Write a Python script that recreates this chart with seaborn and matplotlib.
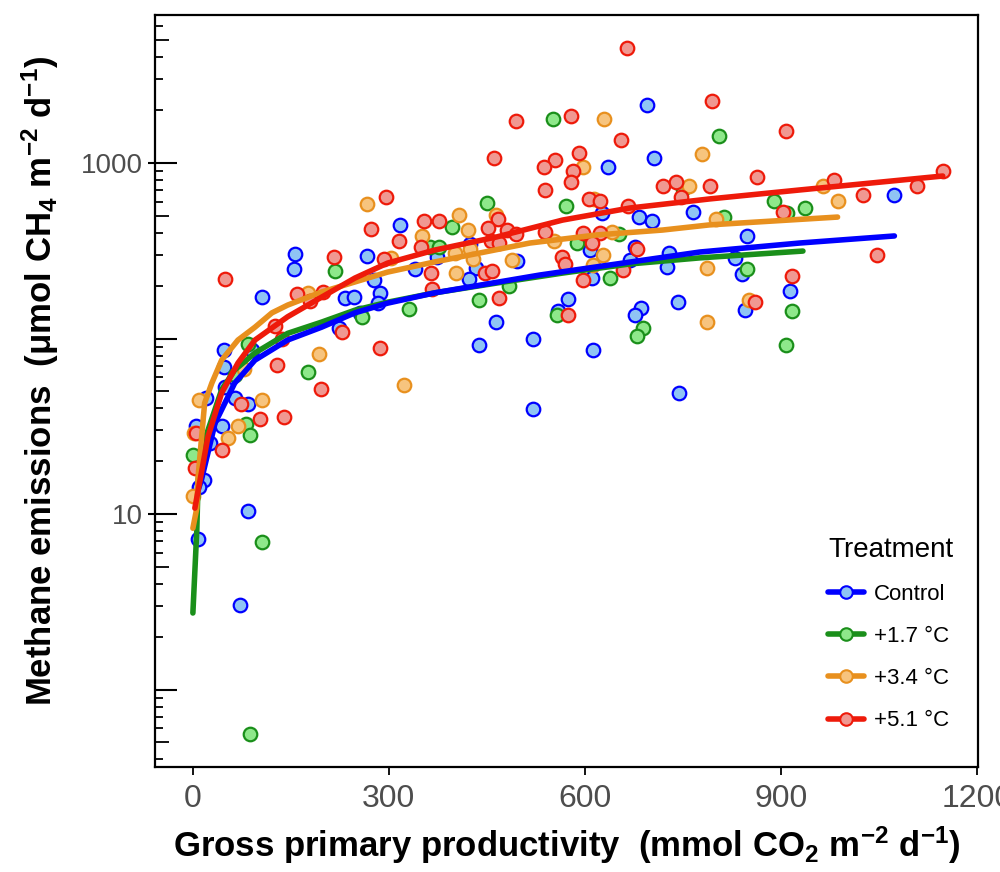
import numpy as np
import pandas as pd
import matplotlib
matplotlib.use('Agg')
import matplotlib.pyplot as plt
from matplotlib import font_manager
from matplotlib.lines import Line2D
from matplotlib.ticker import FixedLocator, LogLocator, NullFormatter, NullLocator
import seaborn as sns

# ---- points (GPP, CH4) ----
ctrl_gpp = [317, 156, 266, 696, 706, 635, 626, 683, 703, 765, 424, 608, 677, 729, 496, 373, 849, 1074,
            155, 340, 277, 106, 233, 246, 286, 283, 256, 223, 47, 90, 47, 49, 20, 64, 84, 5, 44, 26, 17,
            9, 84, 8, 72, 433, 422, 464, 438, 520, 520, 611, 574, 559, 612, 686, 677, 669, 726, 742, 745,
            830, 840, 914, 846]
ctrl_ch4 = [443, 303, 295, 2141, 1068, 949, 519, 492, 467, 526, 346, 319, 332, 307, 276, 291, 384, 657,
            249, 249, 215, 172, 170, 172, 182, 159, 140, 115, 86, 86, 68.8, 52.9, 45.8, 45.8, 42.3, 31.7,
            31.7, 25.4, 15.6, 14.3, 10.4, 7.2, 3.03, 252, 218, 124, 91.8, 99.4, 39.7, 221, 168, 143, 86,
            149, 136, 280, 255, 161, 48.9, 287, 233, 187, 145]

w17_gpp = [363, 551, 750, 450, 571, 396, 652, 588, 377, 805, 889, 937, 909, 813, 217, 331, 259, 84, 176,
           64, 81, 87, 0, 106, 87, 484, 438, 638, 557, 689, 680, 849, 917, 908]
w17_ch4 = [332, 1781, 711, 592, 569, 432, 394, 350, 332, 1425, 608, 554, 519, 492, 242, 147, 133, 93,
           64.4, 61.9, 32.6, 28.2, 21.7, 6.9, 0.558, 199, 166, 221, 136, 115, 103, 249, 143, 91.8]

w34_gpp = [266, 303, 351, 629, 779, 598, 759, 614, 407, 464, 421, 641, 553, 424, 401, 628, 488, 964,
           987, 801, 176, 193, 78, 323, 9, 106, 69, 54, 2, 0, 429, 403, 612, 787, 787, 851]
w34_ch4 = [584, 288, 384, 1781, 1125, 949, 739, 624, 505, 505, 415, 404, 359, 324, 307, 299, 280, 739,
           608, 480, 182, 81.6, 67, 54.3, 44.6, 44.6, 31.7, 27.1, 28.9, 12.7, 284, 236, 262, 252, 124, 166]

w51_gpp = [295, 272, 354, 315, 349, 216, 292, 664, 794, 579, 494, 655, 461, 591, 554, 537, 582, 579,
           539, 719, 739, 748, 791, 606, 624, 666, 467, 377, 452, 481, 494, 539, 456, 468, 598, 624, 611,
           680, 565, 908, 863, 981, 1148, 1108, 1026, 903, 1048, 364, 49, 159, 179, 199, 366, 126, 228,
           136, 286, 129, 196, 73, 103, 139, 5, 44, 3, 447, 458, 468, 569, 598, 658, 574, 917, 860]
w51_ch4 = [640, 421, 467, 359, 332, 291, 284, 4521, 2256, 1853, 1735, 1352, 1068, 1140, 1040, 949, 900,
           779, 702, 739, 779, 640, 739, 624, 608, 569, 480, 467, 426, 415, 394, 404, 359, 350, 399, 399,
           350, 324, 291, 1522, 832, 800, 900, 739, 657, 526, 299, 236, 218, 179, 164, 184, 191, 118, 109,
           99.4, 88.3, 70.6, 51.6, 42.3, 34.8, 35.7, 28.9, 23.1, 18.3, 236, 242, 170, 266, 215, 245, 136,
           227, 161]

# ---- fitted curves ----
ctrl_fit_x = [8, 13, 34, 64, 95, 145, 197, 248, 298, 370, 531, 776, 929, 1074]
ctrl_fit_y = [13.7, 15.6, 33, 55.7, 75.3, 98, 116, 140, 159, 182, 230, 311, 350, 384]
w17_fit_x = [0, 6, 8, 18, 44, 64, 95, 145, 197, 248, 298, 370, 465, 566, 669, 776, 934]
w17_fit_y = [2.73, 8.1, 15.6, 26.4, 51, 66.2, 82.7, 107, 124, 145, 161, 182, 207, 236, 266, 288, 315]
w34_fit_x = [0, 6, 8, 18, 29, 44, 69, 95, 121, 145, 197, 248, 298, 370, 516, 618, 719, 791, 987]
w34_fit_y = [8.3, 10.8, 16.3, 42.9, 55.7, 75.3, 98, 116, 140, 155, 184, 210, 239, 273, 350, 389, 415, 444, 492]
w51_fit_x = [3, 11, 23, 44, 69, 95, 145, 197, 248, 298, 370, 465, 566, 669, 791, 929, 1148]
w51_fit_y = [10.8, 15.6, 27.5, 48.9, 72.5, 98, 133, 172, 221, 269, 319, 379, 473, 554, 624, 702, 843]

treatments = ['Control', '+1.7 °C', '+3.4 °C', '+5.1 °C']
line_cols = ['#0000ff', '#1a8f1a', '#e8901e', '#ee1a0a']
face_cols = ['#8fc4f4', '#8ee88a', '#f7c47e', '#f09891']

pts = pd.concat([
    pd.DataFrame({'gpp': ctrl_gpp, 'ch4': ctrl_ch4, 'trt': treatments[0]}),
    pd.DataFrame({'gpp': w17_gpp, 'ch4': w17_ch4, 'trt': treatments[1]}),
    pd.DataFrame({'gpp': w34_gpp, 'ch4': w34_ch4, 'trt': treatments[2]}),
    pd.DataFrame({'gpp': w51_gpp, 'ch4': w51_ch4, 'trt': treatments[3]}),
])
fits = pd.concat([
    pd.DataFrame({'gpp': ctrl_fit_x, 'ch4': ctrl_fit_y, 'trt': treatments[0]}),
    pd.DataFrame({'gpp': w17_fit_x, 'ch4': w17_fit_y, 'trt': treatments[1]}),
    pd.DataFrame({'gpp': w34_fit_x, 'ch4': w34_fit_y, 'trt': treatments[2]}),
    pd.DataFrame({'gpp': w51_fit_x, 'ch4': w51_fit_y, 'trt': treatments[3]}),
])

sns.set_theme(style='white')
names = {f.name for f in font_manager.fontManager.ttflist}
narrow = 'Liberation Sans Narrow' if 'Liberation Sans Narrow' in names else 'Liberation Sans'
plt.rcParams['font.family'] = ['Liberation Sans', 'DejaVu Sans']
plt.rcParams['text.color'] = 'black'
plt.rcParams['axes.labelcolor'] = 'black'
plt.rcParams['mathtext.fontset'] = 'custom'
plt.rcParams['mathtext.rm'] = narrow + ':bold'
plt.rcParams['mathtext.it'] = narrow + ':bold'
plt.rcParams['mathtext.bf'] = narrow + ':bold'

fig = plt.figure(figsize=(10, 8.72), dpi=100)
ax = fig.add_axes([0.155, 0.1204, 0.823, 0.8624])
ax.set_yscale('log')

for t, lc, fc in zip(treatments, line_cols, face_cols):
    sub = pts[pts['trt'] == t]
    sns.scatterplot(x=sub['gpp'], y=sub['ch4'], color=fc, edgecolor=lc, linewidth=1.6,
                    s=95, ax=ax, legend=False, zorder=2)

# green first, then blue, orange, red on top
for i in [1, 0, 2, 3]:
    sub = fits[fits['trt'] == treatments[i]]
    sns.lineplot(x=sub['gpp'], y=sub['ch4'], color=line_cols[i], linewidth=4,
                 sort=False, estimator=None, ax=ax, legend=False, zorder=3)

ax.set_xlim(-58, 1202)
ax.set_ylim(0.362, 6970)
ax.set_ylabel('')

# x axis
ax.set_xticks([0, 300, 600, 900, 1200])
ax.set_xticklabels(['0', '300', '600', '900', '1200'], fontfamily=narrow)
ax.tick_params(axis='x', direction='out', length=6, width=1.3, labelsize=23, color='black',
               labelcolor='#4d4d4d', pad=6, bottom=True)

# y axis: inward ticks on main axis
ax.yaxis.set_major_locator(FixedLocator([0.1, 1, 10, 100, 1000, 10000]))
ax.yaxis.set_major_formatter(NullFormatter())
ax.yaxis.set_minor_locator(LogLocator(base=10, subs=(2, 3, 4, 6, 7, 8, 9), numticks=20))
ax.yaxis.set_minor_formatter(NullFormatter())
ax.tick_params(axis='y', which='major', direction='in', length=16, width=1.5, left=True, color='black')
ax.tick_params(axis='y', which='minor', direction='in', length=6, width=1.3, left=True, color='black')

# medium ticks at 5 x 10^k
sec5 = ax.secondary_yaxis('left')
sec5.set_yticks([0.5, 5, 50, 500, 5000])
sec5.yaxis.set_major_formatter(NullFormatter())
sec5.yaxis.set_minor_locator(NullLocator())
sec5.tick_params(axis='y', direction='in', length=10, width=1.3, color='black')
sec5.spines['left'].set_visible(False)

# labelled ticks with outward part
seclab = ax.secondary_yaxis('left')
seclab.set_yticks([10, 1000], labels=['10', '1000'])
seclab.yaxis.set_minor_locator(NullLocator())
seclab.tick_params(axis='y', direction='out', length=5, width=1.5, labelsize=20, color='black',
                   labelcolor='#4d4d4d', pad=4)
seclab.spines['left'].set_visible(False)

for s in ax.spines.values():
    s.set_visible(True)
    s.set_linewidth(1.6)
    s.set_color('black')

ax.set_xlabel('Gross primary productivity  (mmol CO$_2$ m$^{-2}$ d$^{-1}$)',
              fontsize=25, fontweight='bold', fontfamily=narrow, labelpad=8, color='black')
fig.text(0.040, 0.563, 'Methane emissions  (μmol CH$_4$ m$^{-2}$ d$^{-1}$)',
         rotation=90, ha='center', va='center', fontsize=25, fontweight='bold',
         fontfamily=narrow, color='black')

handles = [Line2D([0], [0], color=lc, lw=4, marker='o', markersize=9, markerfacecolor=fc,
                  markeredgecolor=lc, markeredgewidth=1.5)
           for lc, fc in zip(line_cols, face_cols)]
leg = ax.legend(handles, treatments, title='Treatment', loc='upper left',
                bbox_to_anchor=(0.818, 0.306), frameon=False, fontsize=16,
                title_fontsize=20, handlelength=1.6, handletextpad=0.45,
                labelspacing=0.95, borderpad=0, borderaxespad=0, alignment='left')
for txt in leg.get_texts():
    txt.set_color('black')
leg.get_title().set_color('black')

fig.savefig('out.png', dpi=100)
